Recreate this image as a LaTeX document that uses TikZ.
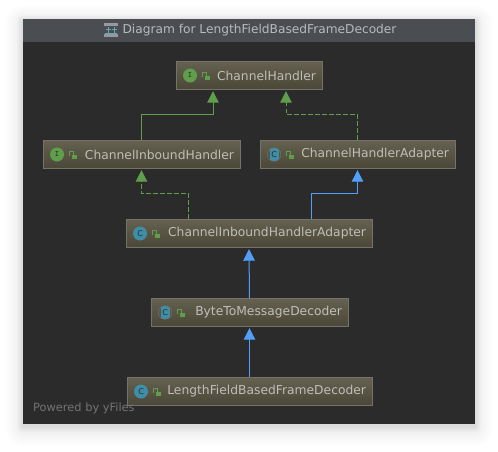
\documentclass[tikz,border=0pt]{standalone}
\usepackage{fontspec}
\setmainfont{DejaVu Sans}
\usetikzlibrary{arrows.meta}
\definecolor{windowbg}{HTML}{2B2B2B}
\definecolor{titlebg}{HTML}{4A4D52}
\definecolor{titletext}{HTML}{B8BABC}
\definecolor{boxtop}{HTML}{666150}
\definecolor{boxbottom}{HTML}{4A4738}
\definecolor{boxline}{HTML}{73736C}
\definecolor{boxtext}{HTML}{BEBEBA}
\definecolor{implgreen}{HTML}{5F9F4C}
\definecolor{extblue}{HTML}{529FF8}
\definecolor{classteal}{HTML}{3F8EA8}
\tikzset{
  classbox/.style={draw=boxline,line width=.9pt,top color=boxtop,bottom color=boxbottom,
    inner xsep=6pt,inner ysep=0pt,minimum height=28.5pt,align=right,text=boxtext,font=\fontsize{12.3}{14}\selectfont},
  kindI/.style={circle,fill=implgreen,minimum size=14pt,inner sep=0pt,text=windowbg,font=\ttfamily\bfseries\fontsize{8}{8}\selectfont},
  kindC/.style={circle,fill=classteal,minimum size=14pt,inner sep=0pt,text=windowbg,font=\fontsize{8}{8}\selectfont},
  kindA/.style={circle,draw=boxline,minimum size=13.5pt,inner sep=0pt,text=windowbg,font=\fontsize{8}{8}\selectfont,
    path picture={\fill[classteal] ([xshift=-4.5pt,yshift=-8pt]path picture bounding box.center) rectangle ([xshift=4.5pt,yshift=8pt]path picture bounding box.center);}},
  lockicon/.pic={
    \draw[implgreen,line width=1pt] (-4,1) -- (-4,-3.5) -- (0,-3.5) -- (0,0);
    \fill[implgreen] (-1.5,0) rectangle (4,4);
  },
  extends/.style={draw=extblue,line width=1pt,-{Triangle[width=11.5pt,length=11.5pt]}},
  implements/.style={draw=implgreen,line width=1pt,-{Triangle[width=11.5pt,length=11.5pt]}},
  realizes/.style={implements,dash pattern=on 4.5pt off 2.5pt}
}
\begin{document}
\begin{tikzpicture}[x=1pt,y=-1pt]
  \useasboundingbox (0,0) rectangle (498,451);
  % window shadow
  \foreach \rad in {1,...,18}
    \fill[black,opacity=.005,rounded corners=\rad pt] (23-\rad,19-\rad+4) rectangle (475+\rad,424+\rad+4);
  \foreach \rad in {1,...,6}
    \fill[black,opacity=.012,rounded corners=\rad pt] (23-\rad,19-\rad+2) rectangle (475+\rad,424+\rad+2);
  % window
  \fill[windowbg] (23,19) rectangle (475,424);
  \fill[titlebg] (23,19) rectangle (475,42);
  \node[text=titletext,font=\fontsize{12.2}{14}\selectfont,inner sep=0pt] (title) at (259.5,30.5) {Diagram for LengthFieldBasedFrameDecoder};
  % title icon
  \fill[titletext!70!titlebg] (104,23) rectangle (118,26);
  \fill[titletext!70!titlebg] (104,34) rectangle (118,37);
  \draw[classteal!80!white,line width=1pt] (108,27) -- (108,33) (105.5,29) -- (110.5,29) (114,27) -- (114,33) (111.5,29) -- (116.5,29) (105,33.5) -- (117,33.5);
  % classes
  \foreach \name/\cx/\cy/\boxw/\kind/\letter/\txt in {
    handler/249/75.5/146/kindI/I/ChannelHandler,
    inbound/141.5/154.5/197/kindI/I/ChannelInboundHandler,
    adapter/357.5/154.5/195/kindA/C/ChannelHandlerAdapter,
    inadapter/249/233.5/246/kindC/C/ChannelInboundHandlerAdapter,
    bytedecoder/249.5/312.5/197/kindA/C/ByteToMessageDecoder,
    framedecoder/249.5/391.5/245/kindC/C/LengthFieldBasedFrameDecoder}
  {
    \node[classbox,text width=\boxw pt-12pt] (\name) at (\cx,\cy) {\txt};
    \node[\kind] (\name icon) at ([xshift=14.5pt]\name.west) {\letter};
    \pic at ([xshift=30.5pt]\name.west) {lockicon};
  }
  % inheritance
  \draw[implements] (inbound.north) -- ++(0,-25) -| ([xshift=-36pt,yshift=-1pt]handler.south);
  \draw[realizes] (adapter.north) -- ++(0,-25) -| ([xshift=37pt,yshift=-1pt]handler.south);
  \draw[realizes] ([xshift=-60.5pt]inadapter.north) -- ++(0,-25) -| ([yshift=-1pt]inbound.south);
  \draw[extends] ([xshift=62pt]inadapter.north) -- ++(0,-25) -| ([yshift=-1pt]adapter.south);
  \draw[extends] (bytedecoder.north) -- ([yshift=-1pt]inadapter.south);
  \draw[extends] (framedecoder.north) -- ([yshift=-1pt]bytedecoder.south);
  \node[anchor=west,inner sep=0pt,text=white!34!windowbg,font=\fontsize{11.4}{12}\selectfont] (powered) at (33,408) {Powered by yFiles};
\end{tikzpicture}
\end{document}
